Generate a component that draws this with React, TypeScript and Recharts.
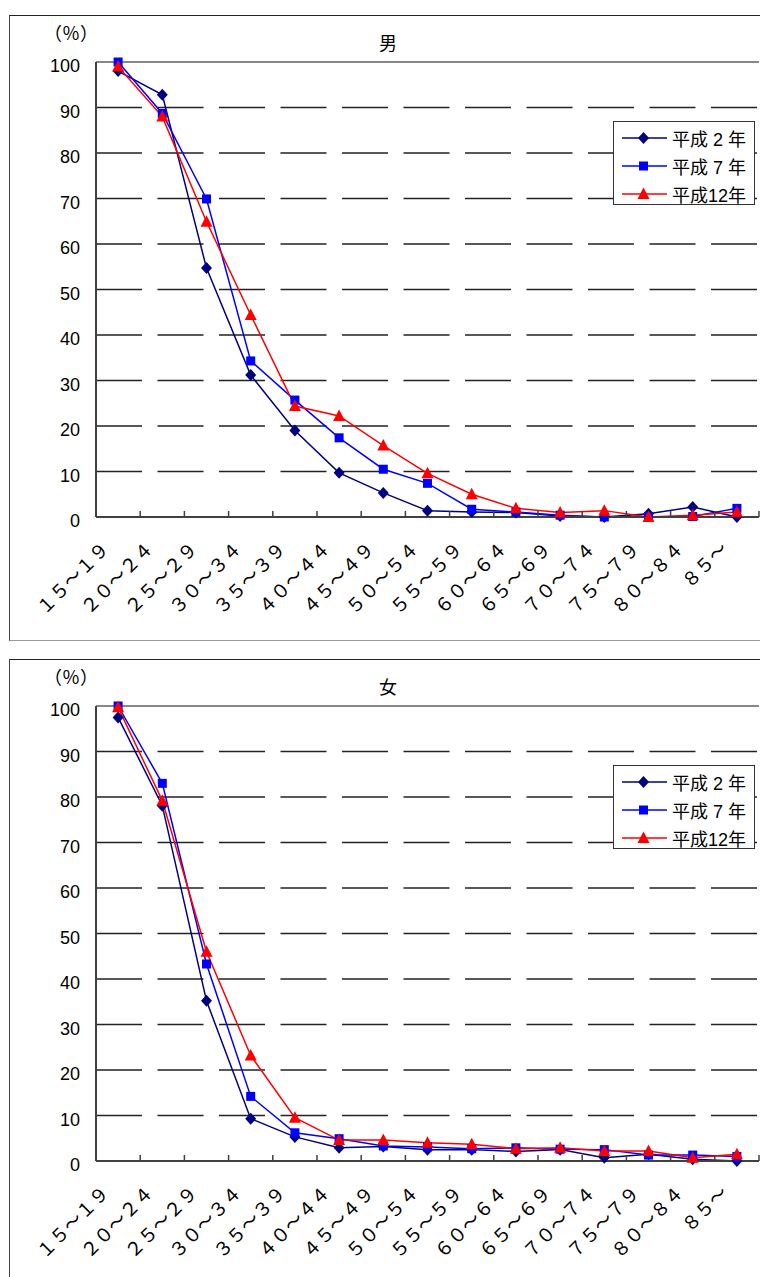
import { LineChart, Line, XAxis, YAxis, CartesianGrid, ReferenceLine, Legend } from 'recharts';

const ages = ['１５～１９', '２０～２４', '２５～２９', '３０～３４', '３５～３９', '４０～４４', '４５～４９', '５０～５４', '５５～５９', '６０～６４', '６５～６９', '７０～７４', '７５～７９', '８０～８４', '８５～'];
const yTicks = [0, 10, 20, 30, 40, 50, 60, 70, 80, 90, 100];

// 男
const maleH2 = [98.0, 92.8, 54.7, 31.2, 19.0, 9.7, 5.3, 1.4, 1.1, 1.0, 0.2, 0.0, 0.7, 2.2, 0.0];
const maleH7 = [100, 88.7, 69.9, 34.3, 25.7, 17.4, 10.5, 7.4, 1.7, 1.1, 0.4, 0.0, 0.0, 0.1, 1.9];
const maleH12 = [99.0, 88.0, 64.9, 44.4, 24.4, 22.2, 15.7, 9.6, 5.0, 1.9, 1.0, 1.4, 0.0, 0.4, 1.1];

// 女
const femaleH2 = [97.5, 78.1, 35.2, 9.3, 5.3, 2.9, 3.2, 2.5, 2.5, 2.1, 2.5, 0.7, 1.5, 0.4, 0.0];
const femaleH7 = [100, 83.0, 43.3, 14.2, 6.2, 4.9, 3.3, 3.1, 2.7, 2.9, 2.6, 2.5, 1.3, 1.3, 1.0];
const femaleH12 = [99.7, 79.2, 46.0, 23.2, 9.5, 4.6, 4.6, 4.0, 3.7, 2.7, 2.9, 2.2, 2.2, 0.7, 1.5];

const seriesNames = ['平成 2 年', '平成 7 年', '平成12年'];
const seriesColors = ['#000080', '#0000ff', '#ff0000'];

const FONT = "'Liberation Sans', 'Noto Sans CJK JP', sans-serif";

function Marker({ cx, cy, kind, color }: any) {
  if (cx == null || cy == null) return null;
  if (kind === 0) {
    return <polygon points={`${cx},${cy - 6} ${cx + 5.5},${cy} ${cx},${cy + 6} ${cx - 5.5},${cy}`} fill={color} />;
  }
  if (kind === 1) {
    return <rect x={cx - 4.5} y={cy - 4.5} width={9} height={9} fill={color} />;
  }
  return <polygon points={`${cx},${cy - 6.5} ${cx + 6},${cy + 5} ${cx - 6},${cy + 5}`} fill={color} />;
}

const YTick = ({ x, y, payload }: any) => (
  <text x={x} y={y} dy={4} textAnchor="end" dominantBaseline="central" fontSize={18} fill="#000" fontFamily={FONT}>
    {payload.value}
  </text>
);

const XTick = ({ x, y, payload, index }: any) => {
  const half = payload.offset ?? 22.1;
  const tx = x - 8;
  const ty = y + 33;
  return (
    <g>
      <line x1={x - half} x2={x - half} y1={y} y2={y - 6} stroke="#404040" strokeWidth={1.5} />
      {index === ages.length - 1 && (
        <line x1={x + half} x2={x + half} y1={y} y2={y - 6} stroke="#404040" strokeWidth={1.5} />
      )}
      <text
        x={tx}
        y={ty}
        textAnchor="end"
        fontSize={18.5}
        fill="#000"
        fontFamily={FONT}
        transform={`rotate(-45 ${tx} ${ty})`}
      >
        {payload.value}
      </text>
    </g>
  );
};

const LegendBox = () => (
  <div
    style={{
      width: 142,
      height: 84,
      boxSizing: 'border-box',
      border: '1px solid #333',
      background: '#fff',
      fontFamily: FONT,
      fontSize: 18,
      paddingTop: 2,
    }}
  >
    {seriesNames.map((name, i) => (
      <div key={name} style={{ display: 'flex', alignItems: 'center', height: 28 }}>
        <svg width={58} height={20} style={{ flex: 'none' }}>
          <line x1={8} x2={53} y1={10} y2={10} stroke={seriesColors[i]} strokeWidth={1.5} />
          <Marker cx={29.5} cy={10} kind={i} color={seriesColors[i]} />
        </svg>
        <span style={{ whiteSpace: 'pre' }}>{name}</span>
      </div>
    ))}
  </div>
);

function Panel({ title, values, top }: { title: string; values: number[][]; top: number }) {
  const data = ages.map((age, i) => ({
    age,
    h2: values[0][i],
    h7: values[1][i],
    h12: values[2][i],
  }));
  const keys = ['h2', 'h7', 'h12'];
  return (
    <div style={{ position: 'absolute', left: 0, top, width: 760, height: 643, overflow: 'hidden' }}>
      <div
        style={{
          position: 'absolute',
          left: 9,
          top: 15,
          width: 800,
          height: 624,
          borderTop: '1px solid #222',
          borderLeft: '1px solid #444',
          borderBottom: '1px solid #999',
        }}
      />
      <div style={{ position: 'absolute', left: 41, top: 22, width: 60, textAlign: 'center', fontSize: 18, fontFamily: FONT, lineHeight: '24px' }}>
        （％）
      </div>
      <div style={{ position: 'absolute', left: 358, top: 32, width: 60, textAlign: 'center', fontSize: 18, fontFamily: FONT, lineHeight: '24px' }}>
        {title}
      </div>
      <LineChart width={760} height={643} data={data} margin={{ top: 62, right: 1, bottom: 26, left: 0 }}>
        <CartesianGrid vertical={false} strokeDasharray="46 15.5" stroke="#222" strokeWidth={1.3} />
        <ReferenceLine y={100} stroke="#888" strokeWidth={2} />
        <XAxis
          dataKey="age"
          scale="band"
          interval={0}
          height={100}
          tickSize={0}
          tickMargin={0}
          axisLine={{ stroke: '#404040', strokeWidth: 2 }}
          tickLine={false}
          tick={<XTick />}
        />
        <YAxis
          domain={[0, 100]}
          ticks={yTicks}
          width={96}
          tickSize={0}
          tickMargin={16}
          axisLine={{ stroke: '#404040', strokeWidth: 2 }}
          tickLine={false}
          tick={<YTick />}
        />
        {keys.map((k, i) => (
          <Line
            key={k}
            dataKey={k}
            name={seriesNames[i]}
            type="linear"
            stroke={seriesColors[i]}
            strokeWidth={1.5}
            isAnimationActive={false}
            dot={(p: any) => <Marker key={`${k}-${p.index}`} cx={p.cx} cy={p.cy} kind={i} color={seriesColors[i]} />}
            activeDot={false}
          />
        ))}
        <Legend
          layout="vertical"
          align="center"
          verticalAlign="middle"
          content={<LegendBox />}
          wrapperStyle={{ position: 'absolute', left: 613, top: 121, width: 142, height: 84 }}
        />
      </LineChart>
    </div>
  );
}

export default function App() {
  return (
    <div style={{ position: 'absolute', left: 0, top: 0, width: 760, height: 1277, background: '#fff', overflow: 'hidden', fontFamily: FONT }}>
      <Panel title="男" values={[maleH2, maleH7, maleH12]} top={0} />
      <Panel title="女" values={[femaleH2, femaleH7, femaleH12]} top={644} />
    </div>
  );
}
